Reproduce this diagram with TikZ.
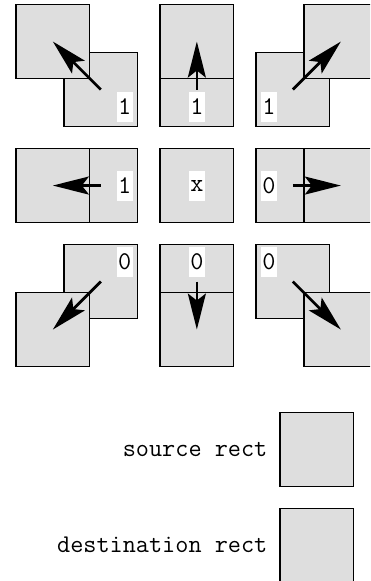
\documentclass[tikz,border=0pt]{standalone}
\usepackage{fontspec}
\usetikzlibrary{arrows.meta}
\definecolor{boxgray}{RGB}{222,222,222}
\tikzset{
  rectbox/.style={draw=black, line width=1.2pt, fill=boxgray,
    minimum width=73.7pt, minimum height=73.7pt, inner sep=0pt},
  flag/.style={fill=white, minimum width=16pt, minimum height=30pt,
    inner sep=0pt, font=\ttfamily\fontsize{25.5}{30}\selectfont},
  shift arrow/.style={line width=2.7pt,
    -{Stealth[length=36pt,width=18pt,inset=7pt]}},
  legend/.style={anchor=east, inner sep=0pt,
    font=\ttfamily\fontsize{25.5}{30}\selectfont}
}
\begin{document}
\begin{tikzpicture}[x=1pt,y=-1pt]
\useasboundingbox (0,0) rectangle (370,581);
\clip (0,0) rectangle (370,581);

% eight neighbour cells: source box, shifted destination box, flag, arrow
\foreach \n/\cx/\cy/\dx/\dy/\lx/\ly/\t in {
    nw/100.85/89.55/-48/-48/23.85/17.45/1,
    n/196.85/89.55/0/-48/0/17.45/1,
    ne/292.85/89.55/48/-48/-23.85/17.45/1,
    w/100.85/185.55/-48/0/23.85/0/1,
    e/292.85/185.55/48/0/-23.85/0/0,
    sw/100.85/281.55/-48/48/23.85/-19.85/0,
    s/196.85/281.55/0/48/0/-19.85/0,
    se/292.85/281.55/48/48/-23.85/-19.85/0}{
  \node[rectbox] (src\n) at (\cx,\cy) {};
  \node[rectbox] (dst\n) at (\cx+\dx,\cy+\dy) {};
  \node[flag] (flag\n) at (\cx+\lx,\cy+\ly) {\t};
  \draw[shift arrow] (src\n.center) -- (dst\n.center);
}

% centre cell: no shift
\node[rectbox] (srcc) at (196.85,185.55) {};
\node[flag] (flagc) at (196.85,185.55) {x};

% legend
\node[rectbox] (srcbox) at (316.85,449.55) {};
\node[rectbox] (dstbox) at (316.85,545.15) {};
\node[legend] (srclabel) at (267.5,449.55) {source rect};
\node[legend] (dstlabel) at (267.5,545.15) {destination rect};
\end{tikzpicture}
\end{document}
